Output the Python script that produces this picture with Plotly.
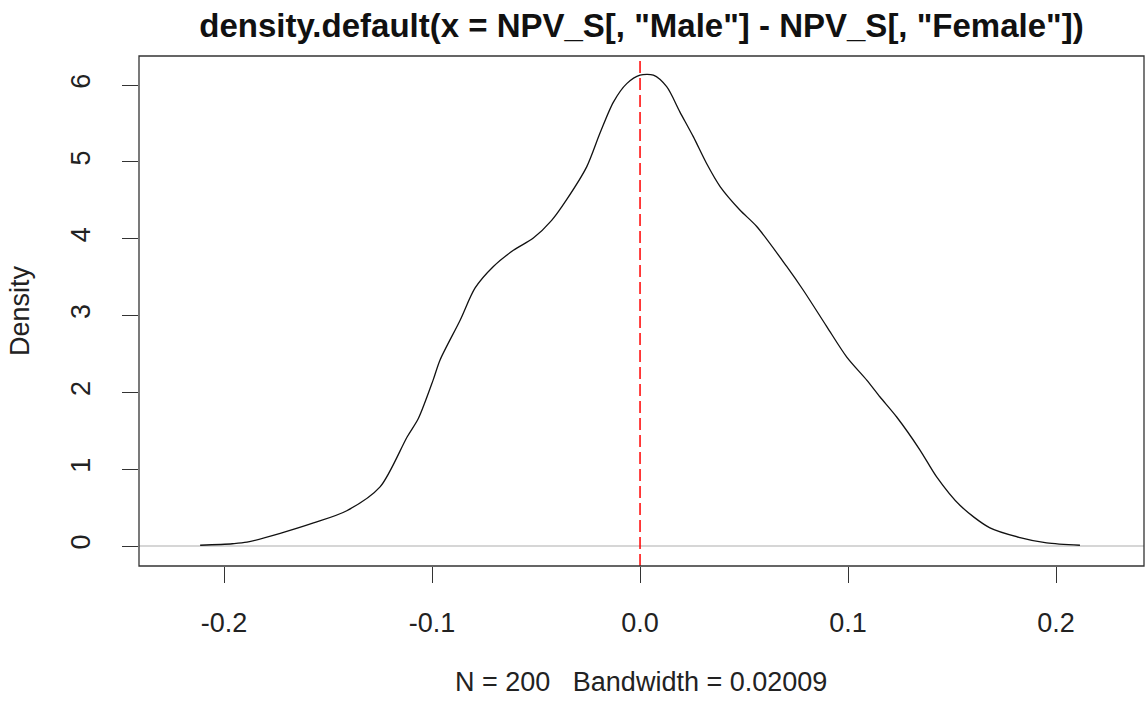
import plotly.graph_objects as go

# Density estimate
x_vals = [-0.2115, -0.196, -0.189, -0.173, -0.157, -0.141, -0.125, -0.112, -0.1066, -0.0995,
          -0.0962, -0.0865, -0.0793, -0.0705, -0.0609, -0.0513, -0.0425, -0.0353,
          -0.0256, -0.0192, -0.0128, -0.0064, 0.0, 0.0064, 0.0128, 0.0192, 0.0256, 0.032,
          0.0385, 0.048, 0.0561, 0.0705, 0.0785, 0.0897, 0.0994, 0.109, 0.1154, 0.1234,
          0.1346, 0.1426, 0.1538, 0.168, 0.1827, 0.1955, 0.2115]
density = [0.01, 0.03, 0.05, 0.165, 0.30, 0.46, 0.77, 1.42, 1.66, 2.16,
           2.42, 2.94, 3.36, 3.64, 3.85, 4.01, 4.24, 4.51,
           4.94, 5.38, 5.78, 6.02, 6.13, 6.13, 5.98, 5.65, 5.33, 4.98,
           4.68, 4.375, 4.16, 3.64, 3.33, 2.86, 2.46, 2.16, 1.94, 1.68,
           1.25, 0.90, 0.53, 0.24, 0.11, 0.04, 0.01]

x_ticks = [-0.2, -0.1, 0.0, 0.1, 0.2]
x_tick_labels = ["-0.2", "-0.1", "0.0", "0.1", "0.2"]
y_ticks = [0, 1, 2, 3, 4, 5, 6]
y_tick_labels = ["0", "1", "2", "3", "4", "5", "6"]
ref_x = 0.0
ref_y = 0.0

title_text = 'density.default(x = NPV_S[, "Male"] - NPV_S[, "Female"])'
sub_text = "N = 200\u00a0\u00a0\u00a0Bandwidth = 0.02009"
y_label = "Density"

FONT = "Liberation Sans, Arial, sans-serif"
W, H = 1145, 701
L, R, T, B = 139, 1, 56, 135
FS = 27

fig = go.Figure()
fig.add_trace(go.Scatter(x=x_vals, y=density, mode="lines",
                         line=dict(color="#111111", width=1.3, shape="spline", smoothing=0.8),
                         showlegend=False, hoverinfo="skip"))

fig.update_layout(
    width=W, height=H,
    margin=dict(l=L, r=R, t=T, b=B),
    paper_bgcolor="white", plot_bgcolor="white",
    font=dict(family=FONT, size=FS, color="#222222"),
    title=dict(text="<b>" + title_text + "</b>", x=0.5, xref="paper", xanchor="center",
               y=1 - 25 / H, yref="container", yanchor="middle",
               font=dict(family=FONT, size=33, color="#111111")),
    xaxis=dict(range=[-0.2409, 0.2423], tickvals=x_ticks, ticktext=x_tick_labels,
               ticks="outside", ticklen=16, tickwidth=1.2, tickcolor="#333333",
               showgrid=False, zeroline=False, showline=False,
               ticklabelstandoff=17, tickfont=dict(size=FS, color="#222222")),
    yaxis=dict(range=[-0.26, 6.38], tickvals=y_ticks, ticktext=y_tick_labels,
               ticks="outside", ticklen=16, tickwidth=1.2, tickcolor="#333333",
               showgrid=False, zeroline=False, showline=False, tickangle=-90,
               ticklabelstandoff=21, tickfont=dict(size=FS, color="#222222"),
               title=dict(text=y_label, standoff=28, font=dict(size=FS, color="#222222"))),
    shapes=[
        dict(type="line", xref="paper", yref="y", x0=0, x1=1, y0=ref_y, y1=ref_y,
             line=dict(color="#c8c8c8", width=1.5), layer="below"),
        dict(type="line", xref="x", yref="paper", x0=ref_x, x1=ref_x, y0=0, y1=1,
             line=dict(color="#ff0000", width=1.5, dash="12px,5px")),
        dict(type="rect", xref="paper", yref="paper", x0=0, x1=1, y0=0, y1=1,
             line=dict(color="#333333", width=1.3)),
    ],
    annotations=[
        dict(text=sub_text, xref="paper", yref="paper", x=(641 - L) / (W - L - R), y=0,
             yshift=-(682 - (H - B)), xanchor="center", yanchor="middle", showarrow=False,
             font=dict(family=FONT, size=FS, color="#222222")),
    ],
)

fig.write_html("out.html")
